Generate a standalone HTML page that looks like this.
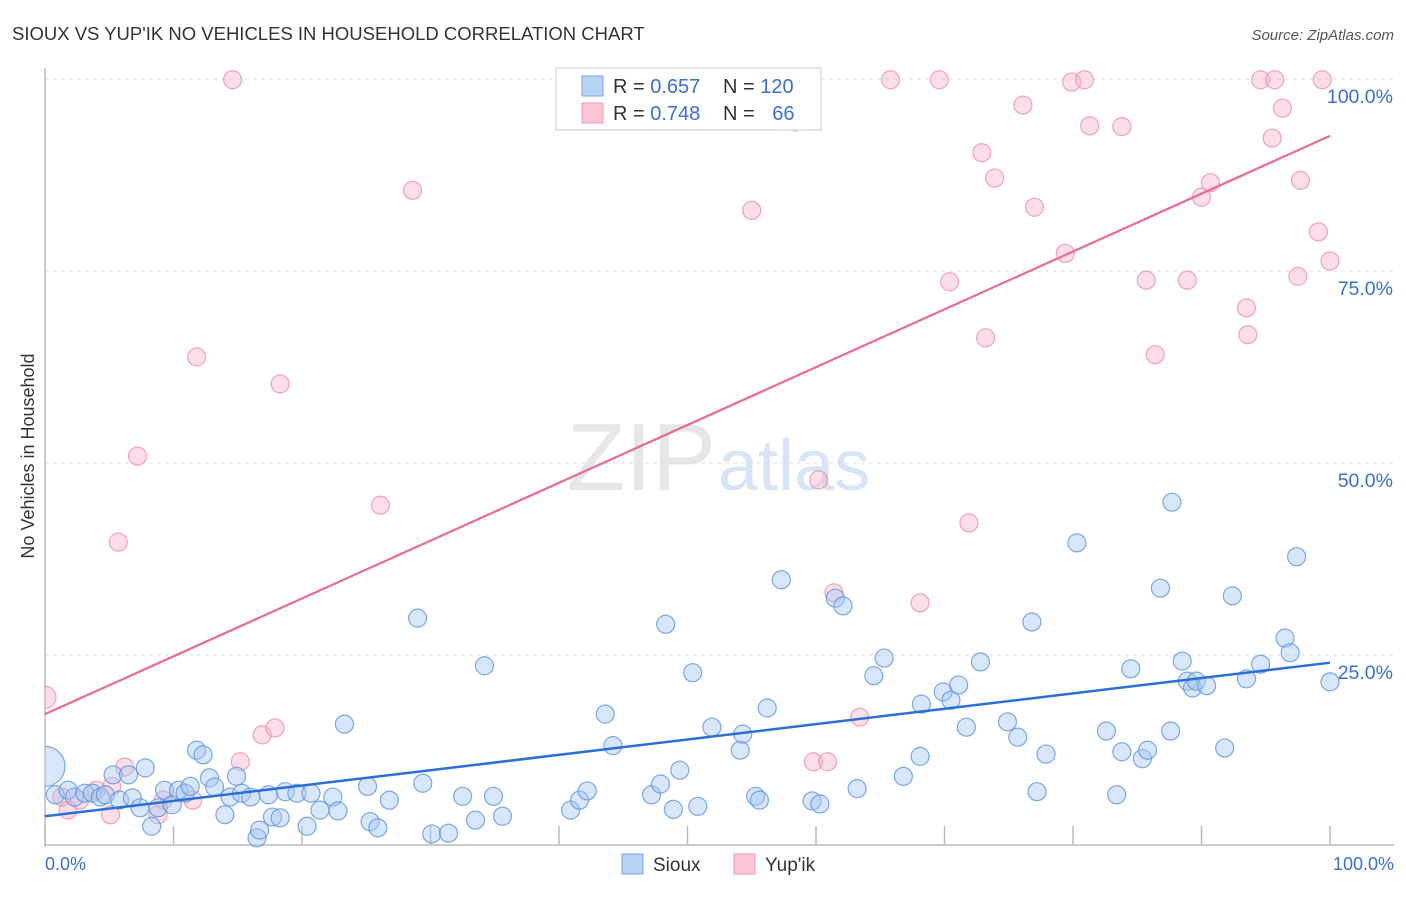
<!DOCTYPE html>
<html><head><meta charset="utf-8"><style>
body{margin:0;background:#fff;font-family:"Liberation Sans",sans-serif;}
svg text{font-family:"Liberation Sans",sans-serif;}
</style></head><body>
<svg id="chart" width="1406" height="892" viewBox="0 0 1406 892" xmlns="http://www.w3.org/2000/svg">
<defs><clipPath id="plotclip"><rect x="45" y="60" width="1361" height="790"/></clipPath></defs>
<text x="12" y="40" font-size="18.5" fill="#333">SIOUX VS YUP'IK NO VEHICLES IN HOUSEHOLD CORRELATION CHART</text>
<text x="1394" y="40" font-size="15" fill="#555" font-style="italic" text-anchor="end">Source: ZipAtlas.com</text>
<text x="716" y="490" font-size="96" fill="#e6e6e6" text-anchor="end" font-family="Liberation Serif">ZIP</text>
<text x="718" y="490" font-size="72" fill="#d6e4f5">atlas</text>
<g id="grid"></g>
<g id="axes"></g>
<g id="pts" clip-path="url(#plotclip)"></g>
<g id="lines"></g>
<text transform="translate(34,456) rotate(-90)" font-size="18" fill="#333" text-anchor="middle">No Vehicles in Household</text>
<text x="45" y="870" font-size="18" fill="#3a6fd0">0.0%</text>
<text x="1394" y="870" font-size="18" fill="#3a6fd0" text-anchor="end">100.0%</text>
<g>
<rect x="556" y="68" width="265" height="62" fill="#fff" stroke="#ddd" stroke-width="1.5"/>
<rect x="582" y="76" width="21" height="20" fill="#b8d2f4" stroke="#7aa6e6"/>
<rect x="582" y="103" width="21" height="20" fill="#f9c6d4" stroke="#ee9ab4"/>
<text x="613" y="93" font-size="20" fill="#333">R = <tspan fill="#3a6fd0">0.657</tspan></text>
<text x="723" y="93" font-size="20" fill="#333">N = <tspan fill="#3a6fd0">120</tspan></text>
<text x="613" y="120" font-size="20" fill="#333">R = <tspan fill="#3a6fd0">0.748</tspan></text>
<text x="723" y="120" font-size="20" fill="#333">N = <tspan fill="#3a6fd0" dx="12">66</tspan></text>
</g>
<g>
<rect x="622" y="854" width="21" height="20" fill="#b8d2f4" stroke="#7aa6e6"/>
<text x="653" y="871" font-size="19" fill="#333">Sioux</text>
<rect x="734" y="854" width="21" height="20" fill="#f9c6d4" stroke="#ee9ab4"/>
<text x="765" y="871" font-size="19" fill="#333">Yup'ik</text>
</g>
</svg>
<script>
const yTicks=[25,50,75,100];
const yTickLabels=["25.0%","50.0%","75.0%","100.0%"];
const xTicks=[0,10,20,30,40,50,60,70,80,90,100];
const siouxX=[0,0.8,1.8,2.3,3.1,3.7,4.3,4.7,5.3,5.8,6.5,6.8,7.4,7.8,8.3,8.8,9.3,9.9,10.4,10.9,11.3,11.8,12.3,12.8,13.2,14.0,14.4,14.9,15.3,16.0,16.5,16.7,17.4,17.7,18.3,18.7,19.6,20.4,20.7,21.4,22.4,22.8,23.3,25.1,25.3,25.9,26.8,29.0,29.4,30.1,31.4,32.5,33.5,34.2,34.9,35.6,40.9,41.6,42.2,43.6,44.2,47.2,47.9,48.3,48.9,49.4,50.4,50.8,51.9,54.1,54.3,55.3,55.6,56.2,57.3,59.7,60.3,61.5,62.1,63.2,64.5,65.3,66.8,68.1,68.2,69.9,70.5,71.1,71.7,72.8,74.9,75.7,76.8,77.2,77.9,80.3,82.6,83.4,83.8,84.5,85.4,85.8,86.8,87.6,87.7,88.5,88.9,89.3,89.6,90.4,91.8,92.4,93.5,94.6,96.5,96.9,97.4,100];
const siouxY=[10.5,6.8,7.4,6.5,7.0,7.0,6.5,6.8,9.4,6.1,9.4,6.4,5.1,10.3,2.7,5.1,7.4,5.5,7.4,7.0,7.9,12.6,12.0,9.0,7.8,4.2,6.5,9.2,7.0,6.5,1.2,2.2,6.8,3.9,3.8,7.2,7.0,2.7,7.0,4.8,6.5,4.7,16.0,7.9,3.3,2.5,6.1,29.8,8.3,1.7,1.8,6.6,3.5,23.6,6.6,4.0,4.8,6.1,7.3,17.3,13.2,6.8,8.2,29.0,4.9,10.0,22.7,5.3,15.6,12.6,14.7,6.6,6.1,18.1,34.8,6.0,5.6,32.4,31.4,7.6,22.3,24.6,9.2,11.8,18.6,20.2,19.1,21.1,15.6,24.1,16.3,14.3,29.3,7.2,12.1,39.6,15.1,6.8,12.4,23.2,11.5,12.6,33.7,15.1,44.9,24.2,21.6,20.7,21.6,21.0,12.9,32.7,21.9,23.8,27.2,25.3,37.8,21.5];
const yupikX=[0,1.3,1.8,2.7,4.0,5.1,5.2,5.7,6.2,7.2,8.8,9.2,11.5,11.8,14.6,15.2,16.9,17.9,18.3,26.1,28.6,41.5,55.0,58.4,59.8,60.2,60.9,61.4,63.4,65.8,68.1,69.6,70.4,71.9,72.9,73.2,73.9,76.1,77.0,79.4,79.9,80.9,81.3,83.8,85.7,86.4,88.9,90.0,90.7,93.5,93.6,94.6,95.5,95.7,96.3,97.5,97.7,99.1,99.4,100];
const yupikY=[19.5,6.5,4.8,6.1,7.4,4.2,7.9,39.7,10.4,50.9,4.2,6.1,6.1,63.8,99.9,11.1,14.6,15.5,60.3,44.5,85.5,99.9,82.9,94.4,11.1,47.8,11.1,33.1,16.9,99.9,31.8,99.9,73.6,42.2,90.4,66.3,87.1,96.6,83.3,77.3,99.6,99.9,93.9,93.8,73.8,64.1,73.8,84.6,86.5,70.2,66.7,99.9,92.3,99.9,96.2,74.3,86.8,80.1,99.9,76.3];
const siouxFit=[4.0,24.0];
const yupikFit=[17.3,92.6];

const NS="http://www.w3.org/2000/svg";
const X0=45,X1=1330,Y0=847,PXPER=7.68;
function sx(v){return X0+(X1-X0)*v/100;}
function sy(v){return Y0-v*PXPER;}
function mk(tag,attrs,parent){const e=document.createElementNS(NS,tag);for(const k in attrs)e.setAttribute(k,attrs[k]);parent.appendChild(e);return e;}
const grid=document.getElementById('grid'),axes=document.getElementById('axes'),pts=document.getElementById('pts'),lines=document.getElementById('lines');
yTicks.forEach((t,i)=>{
  const l=mk('line',{x1:X0,x2:1394,y1:sy(t),y2:sy(t),stroke:'#ddd','stroke-dasharray':'4,4'},grid);
  
  
  const tx=mk('text',{x:1393,y:sy(t)+24,'font-size':19.5,fill:'#3a6fd0','text-anchor':'end'},grid);
  tx.textContent=yTickLabels[i];
  
  
});
const ya=mk('line',{x1:X0,x2:X0,y1:68,y2:Y0,stroke:'#bbb','stroke-width':1.5},axes);


const xa=mk('line',{x1:X0,x2:X1+64,y1:Y0-2,y2:Y0-2,stroke:'#bbb','stroke-width':1.5},axes);


xTicks.forEach(t=>{
  const l=mk('line',{x1:sx(t),x2:sx(t),y1:Y0-21,y2:Y0-2,stroke:'#bbb','stroke-width':1.5},axes);
  
  
});
function drawPts(xs,ys,fill,stroke,name,bigR){
  xs.forEach((x,i)=>{
    const big=(i===0);
    const c=mk('circle',{cx:sx(x),cy:sy(ys[i]),r:big?bigR:9,fill:fill,'fill-opacity':0.45,stroke:stroke,'stroke-opacity':0.8,'stroke-width':1.2},pts);
    
    
  });
}
drawPts(yupikX,yupikY,'#f6b6c9','#ec8fad','yupik-point',11);
drawPts(siouxX,siouxY,'#a9c8f1','#5f93de','sioux-point',20);
const l1=mk('line',{x1:sx(0),y1:sy(yupikFit[0]),x2:sx(100),y2:sy(yupikFit[1]),stroke:'#e8699a','stroke-width':2.2},lines);


const l2=mk('line',{x1:sx(0),y1:sy(siouxFit[0]),x2:sx(100),y2:sy(siouxFit[1]),stroke:'#2b6fd6','stroke-width':2.5},lines);


</script>
</body></html>
